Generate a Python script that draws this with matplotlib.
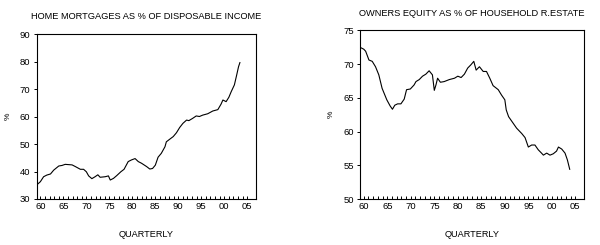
import matplotlib
matplotlib.use("Agg")
import matplotlib.pyplot as plt
from matplotlib.ticker import MultipleLocator, FixedLocator

plt.rcParams['font.family'] = ['Liberation Sans', 'DejaVu Sans']

# Home mortgages as % of disposable income (quarterly, decimal years)
mort_years = [1959.2, 1960.0, 1960.7, 1961.4, 1962.2, 1962.9, 1964.0, 1964.7, 1965.4,
              1966.9, 1967.6, 1968.7, 1969.4, 1970.0, 1970.5, 1971.2, 1971.9, 1972.5,
              1973.0, 1974.1, 1974.8, 1975.2, 1975.9, 1976.6, 1977.5, 1978.2, 1979.1,
              1979.8, 1980.6, 1981.3, 1982.0, 1983.1, 1983.8, 1984.4, 1985.0, 1985.6,
              1986.3, 1987.1, 1987.4, 1988.1, 1988.9, 1989.6, 1990.3, 1991.0, 1991.8,
              1992.3, 1993.1, 1993.9, 1994.6, 1995.3, 1996.4, 1997.5, 1998.6, 1999.3,
              1999.7, 2000.4, 2001.0, 2001.5, 2002.2, 2002.7, 2003.1, 2003.4]
mort_pct = [35.1, 36.3, 38.1, 38.7, 39.1, 40.5, 42.0, 42.2, 42.6,
            42.4, 41.8, 40.8, 40.8, 39.9, 38.4, 37.4, 38.1, 38.8,
            37.9, 38.1, 38.4, 36.9, 37.5, 38.5, 39.9, 40.8, 43.6,
            44.2, 44.7, 43.6, 43.0, 41.8, 40.9, 41.1, 42.3, 45.2,
            46.6, 49.0, 50.8, 51.7, 52.7, 54.1, 56.0, 57.5, 58.7,
            58.5, 59.3, 60.2, 60.0, 60.5, 61.0, 62.0, 62.5, 64.5,
            66.0, 65.4, 67.0, 69.0, 71.5, 75.1, 78.1, 79.6]

# Owners' equity as % of household real estate
eq_years = [1959.15, 1960.0, 1960.4, 1961.1, 1961.8, 1962.5, 1963.2, 1963.9, 1964.9,
            1965.6, 1966.1, 1966.6, 1967.2, 1967.9, 1968.6, 1969.1, 1969.9, 1970.7,
            1971.1, 1971.8, 1972.5, 1973.2, 1973.9, 1974.6, 1975.0, 1975.35, 1975.7,
            1976.3, 1977.1, 1978.2, 1979.3, 1980.0, 1980.7, 1981.4, 1982.1, 1982.8,
            1983.4, 1983.9, 1984.6, 1985.4, 1986.1, 1986.8, 1987.5, 1988.6, 1989.3,
            1990.0, 1990.3, 1990.8, 1991.8, 1992.5, 1993.6, 1994.3, 1995.0, 1995.7,
            1996.4, 1997.1, 1997.8, 1998.2, 1998.9, 1999.6, 2000.3, 2001.0, 2001.4,
            2002.1, 2002.8, 2003.3, 2003.8]
eq_pct = [72.5, 72.2, 71.9, 70.6, 70.4, 69.6, 68.4, 66.4, 64.7,
          63.8, 63.3, 63.9, 64.1, 64.1, 64.8, 66.2, 66.3, 66.9,
          67.4, 67.7, 68.2, 68.5, 69.0, 68.4, 66.1, 66.9, 67.9,
          67.3, 67.4, 67.7, 67.9, 68.2, 68.0, 68.5, 69.4, 69.9,
          70.4, 69.1, 69.6, 68.9, 68.9, 67.9, 66.8, 66.2, 65.4,
          64.7, 63.2, 62.2, 61.2, 60.5, 59.7, 59.1, 57.7, 58.0,
          58.0, 57.3, 56.8, 56.5, 56.8, 56.5, 56.7, 57.1, 57.7,
          57.4, 56.8, 55.8, 54.4]

year_ticks = list(range(1960, 2006))
year_labels = ['60', '65', '70', '75', '80', '85', '90', '95', '00', '05']

fig = plt.figure(figsize=(6.0, 2.45), dpi=100)
ax1 = fig.add_axes([36.7 / 600, 1 - 199 / 245, (256 - 36.7) / 600, (199 - 34) / 245])
ax2 = fig.add_axes([360 / 600, 1 - 199 / 245, (584.3 - 360) / 600, (199 - 30.3) / 245])


def style(ax, title, ylim, ystep):
    ax.set_xlim(1959.2, 2006.9)
    ax.set_ylim(*ylim)
    ax.yaxis.set_major_locator(MultipleLocator(ystep))
    ax.xaxis.set_major_locator(FixedLocator(year_ticks))
    ax.set_xticklabels([year_labels[(y - 1960) // 5] if (y - 1960) % 5 == 0 else ''
                        for y in year_ticks])
    ax.tick_params(axis='x', direction='in', length=2.5, width=0.7, labelsize=6.8, pad=2)
    ax.tick_params(axis='y', direction='out', length=2.5, width=0.7, labelsize=6.8, pad=2)
    for s in ax.spines.values():
        s.set_linewidth(0.8)
    ax.set_title(title, fontsize=6.7, pad=10.5)
    ax.set_xlabel('QUARTERLY', fontsize=6.6, labelpad=14)
    ax.set_ylabel('%', fontsize=6.0, labelpad=6)


ax1.plot(mort_years, mort_pct, color='black', lw=0.8)
style(ax1, 'HOME MORTGAGES AS % OF DISPOSABLE INCOME', (30, 90), 10)

ax2.plot(eq_years, eq_pct, color='black', lw=0.8)
style(ax2, 'OWNERS EQUITY AS % OF HOUSEHOLD R.ESTATE', (50, 75), 5)

fig.savefig('out.png', dpi=100)
